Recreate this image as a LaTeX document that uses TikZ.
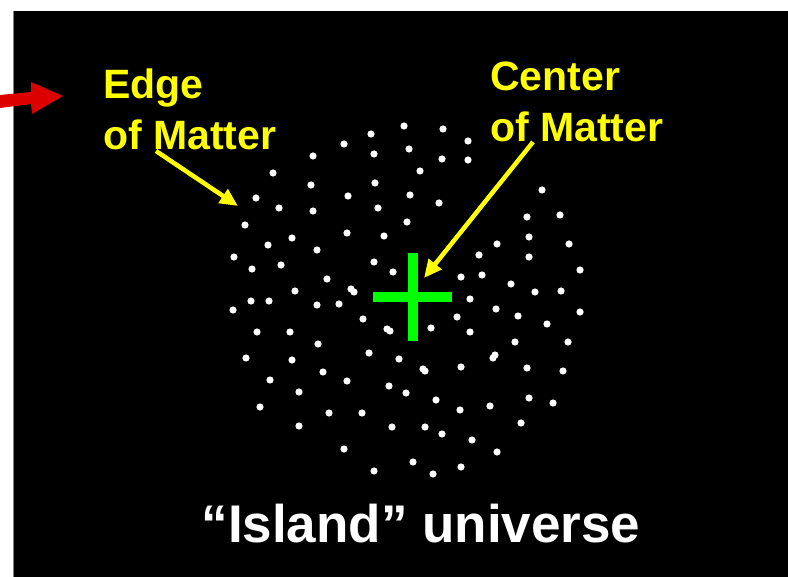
\documentclass[tikz,border=0pt]{standalone}
\usepackage{fontspec}
\setmainfont{Liberation Sans}
\usetikzlibrary{arrows.meta}
\definecolor{ylw}{RGB}{255,255,0}
\definecolor{grn}{RGB}{0,255,0}
\definecolor{redarr}{RGB}{221,0,0}
\tikzset{
  lbl/.style={text=ylw, font=\bfseries\fontsize{41}{51}\selectfont, align=left, inner sep=0pt, anchor=north west},
  title/.style={text=white, font=\bfseries\fontsize{53}{60}\selectfont, inner sep=0pt, anchor=base},
  yarrow/.style={draw=ylw, line width=4.5pt, -{Triangle[length=18pt,width=16pt]}},
  dot/.style={fill=white},
  crossbar/.style={fill=grn}
}
\begin{document}
\begin{tikzpicture}[x=1pt,y=-1pt]
\useasboundingbox (0,0) rectangle (788,577);
\fill[white] (0,0) rectangle (788,577);
\fill[black] (13,11) rectangle (788,577);
\draw[gray, line width=1pt] (13,11) -- (13,577);
% red arrow
\fill[redarr] (0,95) -- (31,92) -- (31,82) -- (63,96) -- (32,114) -- (31,104) -- (0,108) -- cycle;
% dots
\foreach \x/\y in {404/126,371/134,344/144,374/154,409/149,313/156,273/173,311/185,375/183,348/196,410/195,256/198,279/208,313/211,378/208,407/222,245/225,347/233,292/238,268/245,384/236,317/250,234/257,252/269,281/265,374/262,393/272,327/279,295/291,351/289,354/292,251/301,269/301,317/305,339/304,233/310,
363/319,387/329,390/331,257/332,290/332,318/344,246/358,292/360,369/353,399/359,323/372,270/380,347/381,299/392,389/386,406/393,260/407,329/413,362/413,299/426,392/427,344/449,413/462,374/471,
470/299,535/292,561/291,496/309,518/316,580/312,457/317,431/328,470/332,547/324,515/342,568/342,495/355,493/358,423/369,425/371,461/367,527/368,563/371,436/400,460/410,490/406,529/398,553/403,425/427,442/434,521/423,472/440,497/452,461/467,433/474,
443/129,468/141,442/159,468/160,420/171,439/203,542/190,527/217,560/215,529/237,569/244,497/244,529/257,479/255,580/270,461/277,482/275,511/284}
  \fill[dot] (\x,\y) circle (3.6pt);
% green cross
\fill[crossbar] (373,292) rectangle (452,302);
\fill[crossbar] (408,253) rectangle (418,341);
% labels
\node[lbl] (edge) at (103,69) {Edge\\of Matter};
\node[lbl] (center) at (490,62) {Center\\of Matter};
\node[title] (island) at (421,543) {“Island” universe};
% arrows
\coordinate (es) at (156,151);
\coordinate (et) at (238,206);
\coordinate (cs) at (533,142);
\coordinate (ct) at (424,278);
\draw[yarrow] (es) -- (et);
\draw[yarrow] (cs) -- (ct);
\end{tikzpicture}
\end{document}
